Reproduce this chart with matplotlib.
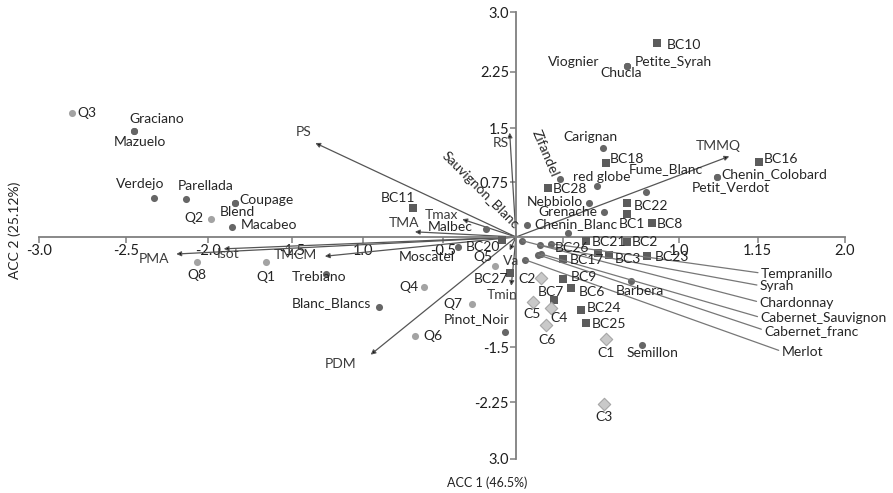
import matplotlib
matplotlib.use("Agg")
import matplotlib.pyplot as plt

plt.rcParams['font.family'] = ['Lato', 'DejaVu Sans']

# ---- data (scores) ----
var_names = ['Graciano', 'Mazuelo', 'Verdejo', 'Parellada', 'Coupage', 'Blend', 'Macabeo',
             'Trebiano', 'Blanc_Blancs', 'Pinot_Noir', 'Moscatel', 'Malbec', 'Sauvignon_Blanc',
             'Chenin_Blanc', 'Zifandel', 'Nebbiolo', 'Grenache', 'Carignan', 'red globe',
             'Fume_Blanc', 'Chenin_Colobard', 'Petit_Verdot', 'Viognier', 'Chucla',
             'Petite_Syrah', 'Semillon', 'Barbera']
var_x = [-2.42, -2.42, -2.29, -2.09, -1.78, -1.78, -1.80, -1.20, -0.87, -0.07, -0.37, -0.19, 0.07,
         0.33, 0.28, 0.46, 0.56, 0.55, 0.51, 0.82, 1.27, 1.27, 0.70, 0.70, 0.70, 0.80, 0.73]
var_y = [1.43, 1.43, 0.53, 0.51, 0.46, 0.46, 0.14, -0.50, -0.95, -1.28, -0.14, 0.11, 0.16,
         0.05, 0.78, 0.46, 0.34, 1.20, 0.69, 0.61, 0.81, 0.81, 2.31, 2.31, 2.31, -1.46, -0.59]

# varieties crowded near the origin, labelled with leader lines
lead_names = ['Tempranillo', 'Syrah', 'Chardonnay', 'Cabernet_Sauvignon', 'Cabernet_franc', 'Merlot']
lead_x = [0.22, 0.15, 0.04, 0.16, 0.14, 0.06]
lead_y = [-0.09, -0.11, -0.05, -0.23, -0.24, -0.31]

q_names = ['Q1', 'Q2', 'Q3', 'Q4', 'Q5', 'Q6', 'Q7', 'Q8']
q_x = [-1.58, -1.93, -2.81, -0.58, -0.13, -0.64, -0.28, -2.02]
q_y = [-0.34, 0.24, 1.68, -0.68, -0.39, -1.34, -0.91, -0.34]

bc_names = ['BC1', 'BC2', 'BC3', 'BC6', 'BC7', 'BC8', 'BC9', 'BC10', 'BC11', 'BC16', 'BC17',
            'BC18', 'BC20', 'BC21', 'BC22', 'BC23', 'BC24', 'BC25', 'BC26', 'BC27', 'BC28']
bc_x = [0.70, 0.70, 0.59, 0.35, 0.24, 0.86, 0.30, 0.89, -0.65, 1.54, 0.30,
        0.57, -0.09, 0.44, 0.70, 0.83, 0.41, 0.44, 0.52, -0.04, 0.20]
bc_y = [0.31, -0.07, -0.24, -0.69, -0.85, 0.19, -0.57, 2.62, 0.39, 1.01, -0.30,
        1.00, -0.04, -0.05, 0.46, -0.26, -0.99, -1.16, -0.22, -0.49, 0.66]

c_names = ['C1', 'C2', 'C3', 'C4', 'C5', 'C6']
c_x = [0.57, 0.16, 0.56, 0.22, 0.11, 0.19]
c_y = [-1.38, -0.55, -2.26, -0.96, -0.88, -1.19]

env_names = ['PS', 'RS', 'Tmax', 'TMA', 'TMCM', 'Isot', 'PMA', 'PDM', 'Va', 'Tmin', 'TMMQ']
env_x = [-1.27, -0.04, -0.34, -0.64, -1.21, -1.85, -2.15, -0.92, -0.04, -0.03, 1.35]
env_y = [1.27, 1.41, 0.24, 0.07, -0.26, -0.16, -0.23, -1.59, -0.18, -0.66, 1.09]

xtick_pos = [-3.02, -2.47, -1.95, -1.42, -0.97, -0.46, 0.30, 1.03, 1.53, 2.08]
xtick_lab = ['-3.0', '-2.5', '-2.0', '-1.5', '1.0', '-0.5', '', '1.0', '1.15', '2.0']
ytick_pos = [3.04, 2.23, 1.47, 0.74, -0.84, -1.49, -2.23, -3.0]
ytick_lab = ['3.0', '2.25', '1.5', '0.75', '', '-1.5', '-2.25', '3.0']

# label offsets in pixels: dx, dy, ha
lab = {
    'Graciano': (23, 12, 'center'), 'Mazuelo': (6, -11, 'center'), 'Verdejo': (-14, 14, 'center'),
    'Parellada': (20, 13, 'center'), 'Coupage': (5, 3, 'left'), 'Blend': (3, -9, 'center'),
    'Macabeo': (9, 2, 'left'), 'Trebiano': (-7, -3, 'center'), 'Blanc_Blancs': (-7, 4, 'right'),
    'Pinot_Noir': (-28, 13, 'center'), 'Moscatel': (-3, -10, 'right'), 'Malbec': (-13, 2, 'right'),
    'Chenin_Blanc': (8, 9, 'center'), 'Nebbiolo': (-6, 1, 'right'), 'Grenache': (-7, 0, 'right'),
    'Carignan': (-12, 11, 'center'), 'red globe': (5, 9, 'center'), 'Fume_Blanc': (20, 23, 'center'),
    'Chenin_Colobard': (5, 3, 'left'), 'Petit_Verdot': (14, -10, 'center'),
    'Viognier': (-27, 4, 'right'), 'Chucla': (-5, -7, 'center'), 'Petite_Syrah': (8, 4, 'left'),
    'Semillon': (10, -8, 'center'), 'Barbera': (9, -10, 'center'),
    'Q1': (0, -15, 'center'), 'Q2': (-8, 1, 'right'), 'Q3': (5, 0, 'left'), 'Q4': (-6, 0, 'right'),
    'Q5': (-13, 9, 'center'), 'Q6': (8, 0, 'left'), 'Q7': (-9, 0, 'right'), 'Q8': (0, -13, 'center'),
    'BC1': (5, -10, 'center'), 'BC2': (5, 0, 'left'), 'BC3': (6, -4, 'left'), 'BC6': (7, -4, 'left'),
    'BC7': (-3, 8, 'center'), 'BC8': (5, -1, 'left'), 'BC9': (7, 2, 'left'), 'BC10': (10, -2, 'left'),
    'BC11': (-15, 10, 'center'), 'BC16': (4, 3, 'left'), 'BC17': (6, -1, 'left'),
    'BC18': (4, 4, 'left'), 'BC20': (-2, -7, 'right'), 'BC21': (6, -1, 'left'),
    'BC22': (7, -3, 'left'), 'BC23': (8, -1, 'left'), 'BC24': (6, 2, 'left'), 'BC25': (6, -1, 'left'),
    'BC26': (-9, 5, 'right'), 'BC27': (-2, -6, 'right'), 'BC28': (5, -1, 'left'),
    'C1': (0, -14, 'center'), 'C2': (-6, -1, 'right'), 'C3': (0, -13, 'center'),
    'C4': (8, -10, 'center'), 'C5': (-1, -12, 'center'), 'C6': (1, -15, 'center'),
    'PS': (-12, 11, 'center'), 'RS': (-9, -10, 'center'), 'Tmax': (-21, 4, 'center'),
    'TMA': (-11, 9, 'center'), 'TMCM': (-8, 1, 'right'), 'Isot': (4, -5, 'center'),
    'PMA': (-7, -5, 'right'), 'PDM': (-30, -9, 'center'), 'Va': (1, -11, 'center'),
    'Tmin': (-9, -9, 'center'), 'TMMQ': (-11, 10, 'center'),
}
lead_off = {'Tempranillo': (210, -30), 'Syrah': (220, -41), 'Chardonnay': (237, -62),
            'Cabernet_Sauvignon': (219, -64), 'Cabernet_franc': (226, -76), 'Merlot': (256, -92)}

W, H = 893, 493
fig = plt.figure(figsize=(W / 100, H / 100), dpi=100)
ax = fig.add_axes([0, 0, 1, 1])
ax.set_xlim(-516 / 158, (W - 516) / 158)
ax.set_ylim((237 - H) / 74, 237 / 74)

axc = '#7f7f7f'
for s in ['top', 'right']:
    ax.spines[s].set_visible(False)
ax.spines['left'].set_position(('data', 0))
ax.spines['bottom'].set_position(('data', 0))
ax.spines['left'].set_bounds(-3.0, 3.04)
ax.spines['bottom'].set_bounds(-3.02, 2.08)
for s in ['left', 'bottom']:
    ax.spines[s].set_color(axc)
    ax.spines[s].set_linewidth(1.3)
ax.set_xticks(xtick_pos)
ax.set_xticklabels(xtick_lab)
ax.set_yticks(ytick_pos)
ax.set_yticklabels(ytick_lab)
ax.tick_params(axis='both', direction='out', length=4, width=1.1, color=axc,
               labelsize=10.5, labelcolor='#1e1e1e', pad=1)
ax.set_zorder(1)

txt = '#262626'
fs = 10

# environmental vectors
for n, x, y in zip(env_names, env_x, env_y):
    ax.annotate('', xy=(x, y), xytext=(0, 0),
                arrowprops=dict(arrowstyle='-|>', color='#6e6e6e', lw=0.9, mutation_scale=7,
                                shrinkA=0, shrinkB=0, fc='black', ec='#555555'), zorder=2)
    dx, dy, ha = lab[n]
    ax.annotate(n, (x, y), xytext=(dx, dy), textcoords='offset pixels', ha=ha, va='center',
                fontsize=fs, color='#3c3c3c', zorder=4)

# leader-lined varieties
for n, x, y in zip(lead_names, lead_x, lead_y):
    dx, dy = lead_off[n]
    ax.annotate(n, (x, y), xytext=(dx, dy), textcoords='offset pixels', ha='left', va='center',
                fontsize=fs, color=txt, zorder=4,
                arrowprops=dict(arrowstyle='-', color='#777777', lw=0.9, shrinkA=0, shrinkB=0,
                                relpos=(0, 0.55)))
ax.scatter(lead_x, lead_y, s=26, marker='o', color='#666666', zorder=3, linewidths=0)

# points
ax.scatter(var_x, var_y, s=26, marker='o', color='#666666', zorder=3, linewidths=0)
ax.scatter(q_x, q_y, s=26, marker='o', color='#a3a3a3', zorder=3, linewidths=0)
ax.scatter(bc_x, bc_y, s=34, marker='s', color='#5c5c5c', zorder=3, linewidths=0)
ax.scatter(c_x, c_y, s=40, marker='D', facecolor='#c9c9c9', edgecolor='#a6a6a6',
           zorder=3, linewidths=0.8)

rot = {'Sauvignon_Blanc': (-47, 35, -45), 'Zifandel': (-15, 26, -67)}
for names, xs, ys in [(var_names, var_x, var_y), (q_names, q_x, q_y),
                      (bc_names, bc_x, bc_y), (c_names, c_x, c_y)]:
    for n, x, y in zip(names, xs, ys):
        if n in rot:
            dx, dy, r = rot[n]
            ax.annotate(n, (x, y), xytext=(dx, dy), textcoords='offset pixels', ha='center',
                        va='center', rotation=r, rotation_mode='anchor', fontsize=fs,
                        color=txt, zorder=4)
            continue
        dx, dy, ha = lab[n]
        ax.annotate(n, (x, y), xytext=(dx, dy), textcoords='offset pixels', ha=ha, va='center',
                    fontsize=fs, color=txt, zorder=4)

fig.text(487 / W, 1 - 483 / H, 'ACC 1 (46.5%)', ha='center', va='center', fontsize=9,
         color='#222222')
fig.text(15 / W, 1 - 230 / H, 'ACC 2 (25.12%)', ha='center', va='center', rotation=90,
         fontsize=10, color='#222222')

fig.savefig('out.png', dpi=100, facecolor='white')
